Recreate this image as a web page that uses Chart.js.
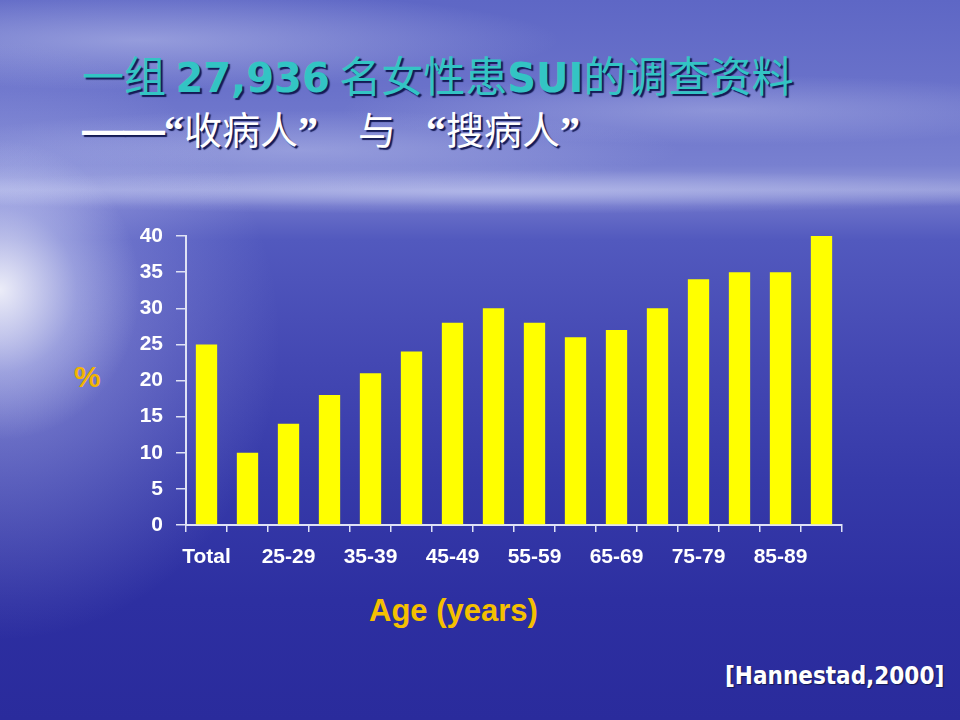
<!DOCTYPE html>
<html>
<head>
<meta charset="utf-8">
<script src="https://cdn.jsdelivr.net/npm/chart.js@4.4.1/dist/chart.umd.min.js"></script>
<style>
  html, body { margin: 0; padding: 0; }
  body {
    width: 960px;
    height: 720px;
    overflow: hidden;
    position: relative;
    background:
      radial-gradient(ellipse 140px 150px at 0px 290px, rgba(255,255,255,0.85), rgba(220,225,250,0.35) 55%, rgba(200,205,245,0) 100%),
      radial-gradient(ellipse 280px 300px at 0px 340px, rgba(195,200,245,0.5), rgba(195,200,245,0) 100%),
      radial-gradient(ellipse 420px 50px at 140px 40px, rgba(210,215,245,0.45), rgba(210,215,245,0) 100%),
      radial-gradient(ellipse 380px 35px at 720px 110px, rgba(200,205,240,0.35), rgba(200,205,240,0) 100%),
      radial-gradient(ellipse 380px 40px at 300px 150px, rgba(210,215,245,0.35), rgba(210,215,245,0) 100%),
      radial-gradient(ellipse 620px 22px at 480px 192px, rgba(210,215,248,0.45), rgba(210,215,248,0) 100%),
      linear-gradient(to bottom,
        #5e67c5 0px,
        #6a72ca 90px,
        #7880d0 165px,
        #959bda 190px,
        #6b71c9 206px,
        #5259be 240px,
        #4448b3 360px,
        #363aa9 480px,
        #2d2fa1 600px,
        #2a2b9c 720px);
  }
  .title {
    position: absolute;
    left: 82px;
    white-space: nowrap;
    font-family: "Noto Sans CJK SC", sans-serif;
  }
  #t1 {
    top: 43px;
    font-size: 42px;
    color: #33c4c4;
    text-shadow: 2px 2px 1px #141a55;
  }
  #t1 b { font-family: "DejaVu Sans", sans-serif; font-weight: bold; font-size: 40px; }
  #t2 {
    top: 100px;
    font-size: 38px;
    color: #ffffff;
    text-shadow: 2px 2px 1px #141a55;
  }
  #t2 .dash { font-family: "Liberation Sans", sans-serif; font-weight: bold; font-size: 42px; letter-spacing: -1px; }
  #t2 .q { font-family: "Liberation Serif", serif; font-weight: bold; font-size: 40px; }
  #t2 .yu { display: inline-block; margin: 0 30px 0 40px; }
  .lbl {
    position: absolute;
    font-family: "Liberation Sans", Arial, sans-serif;
    font-weight: bold;
    white-space: nowrap;
  }
  #pct { left: 74px; top: 360px; font-size: 30px; color: #f2b400; }
  #age { left: 369px; top: 593px; font-size: 31px; color: #f5c000; }
  #src {
    left: 725px; top: 662px; font-size: 24px; color: #ffffff;
    font-family: "DejaVu Sans Condensed", "DejaVu Sans", sans-serif;
    font-stretch: condensed;
    text-shadow: 1px 1px 1px #141a55;
  }
  #wrap { position: absolute; left: 0; top: 0; width: 960px; height: 720px; }
</style>
</head>
<body>
<div id="t1" class="title">一组 <b>27,936</b> 名女性患<b>SUI</b>的调查资料</div>
<div id="t2" class="title"><span class="dash">——</span><span class="q">“</span>收病人<span class="q">”</span><span class="yu">与</span><span class="q">“</span>搜病人<span class="q">”</span></div>
<div id="pct" class="lbl">%</div>
<div id="age" class="lbl">Age (years)</div>
<div id="src" class="lbl">[Hannestad,2000]</div>
<div id="wrap"><canvas id="chart"></canvas></div>

<script>
const ageGroups = [
  "Total", "20-24", "25-29", "30-34", "35-39", "40-44", "45-49", "50-54",
  "55-59", "60-64", "65-69", "70-74", "75-79", "80-84", "85-89", "90-",
]
const prevalence = [25, 10, 14, 18, 21, 24, 28, 30, 28, 26, 27, 30, 34, 35, 35, 40]
const yTicks = [0, 5, 10, 15, 20, 25, 30, 35, 40]

const axisColor = "#dfe2f5"
const tickFont = { family: "Liberation Sans, Arial, sans-serif", size: 21, weight: "bold" }

new Chart(document.getElementById("chart"), {
  type: "bar",
  data: {
    labels: ageGroups,
    datasets: [
      {
        data: prevalence,
        backgroundColor: "#ffff00",
        borderWidth: 0,
        categoryPercentage: 1,
        barPercentage: 0.52,
      },
    ],
  },
  options: {
    responsive: true,
    maintainAspectRatio: false,
    animation: false,
    layout: { padding: { left: 126, top: 236, right: 118, bottom: 145 } },
    plugins: {
      legend: { display: false },
      tooltip: { enabled: false },
    },
    scales: {
      x: {
        afterFit: (s) => { s.height = 50 },
        grid: {
          offset: true,
          drawOnChartArea: false,
          drawTicks: true,
          tickLength: 7,
          color: axisColor,
          lineWidth: 1.5,
        },
        border: { display: true, color: axisColor, width: 2 },
        ticks: {
          autoSkip: false,
          maxRotation: 0,
          color: "#ffffff",
          font: tickFont,
          padding: 13,
          callback: (value, index) => (index % 2 === 0 ? ageGroups[index] : ""),
        },
      },
      y: {
        min: 0,
        max: 40,
        afterFit: (s) => { s.width = 60 },
        afterBuildTicks: (s) => { s.ticks = yTicks.map((v) => ({ value: v })) },
        grid: {
          drawOnChartArea: false,
          drawTicks: true,
          tickLength: 10,
          color: axisColor,
          lineWidth: 1.5,
        },
        border: { display: true, color: axisColor, width: 2 },
        ticks: {
          color: "#ffffff",
          font: tickFont,
          padding: 13,
        },
      },
    },
  },
})
</script>
</body>
</html>
